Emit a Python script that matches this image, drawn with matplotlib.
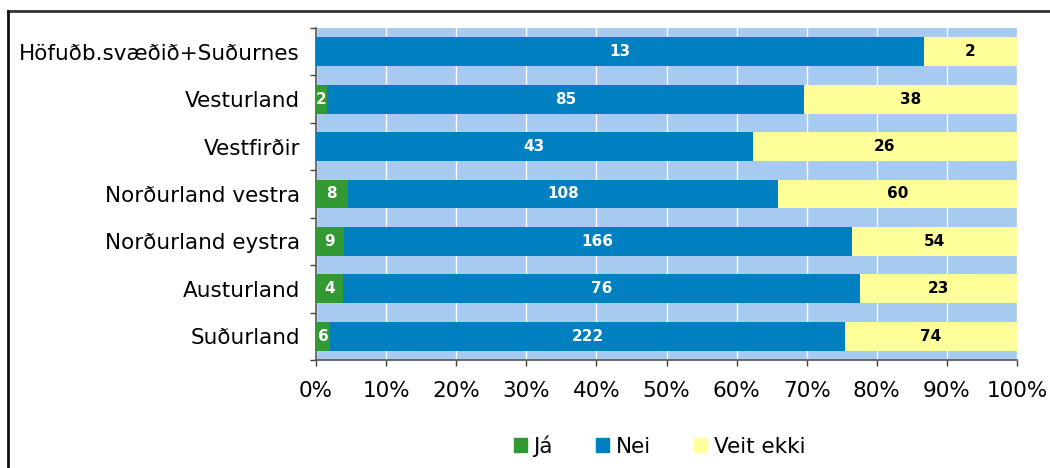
import matplotlib
matplotlib.use("Agg")
import matplotlib.pyplot as plt
import numpy as np
from matplotlib.patches import Rectangle
from matplotlib.lines import Line2D

categories = ["Höfuðb.svæðið+Suðurnes", "Vesturland", "Vestfirðir",
              "Norðurland vestra", "Norðurland eystra", "Austurland", "Suðurland"]
ja = [0, 2, 0, 8, 9, 4, 6]
nei = [13, 85, 43, 108, 166, 76, 222]
veit = [2, 38, 26, 60, 54, 23, 74]
series_names = ["Já", "Nei", "Veit ekki"]
x_ticklabels = ["0%", "10%", "20%", "30%", "40%", "50%", "60%", "70%", "80%", "90%", "100%"]

colors = ["#339933", "#0080C0", "#FFFF99"]
text_colors = ["white", "white", "black"]

plt.rcParams['font.family'] = ['DejaVu Sans']

fig = plt.figure(figsize=(10.5, 4.68), dpi=100)
ax = fig.add_axes([316/1050, 1-360/468, (1017-316)/1050, (360-28)/468])
ax.set_facecolor("#A6CAF0")

data = np.array([ja, nei, veit], dtype=float)
totals = data.sum(axis=0)
pct = data / totals * 100
n = len(categories)
ypos = np.arange(n)[::-1]

left = np.zeros(n)
for i in range(3):
    ax.barh(ypos, pct[i], left=left, height=0.61, color=colors[i],
            label=series_names[i], zorder=3)
    for j in range(n):
        v = data[i, j]
        if v > 0:
            ax.text(left[j] + pct[i, j] / 2, ypos[j], f"{int(v)}",
                    ha="center", va="center", color=text_colors[i],
                    fontsize=11, fontweight="bold", zorder=4)
    left += pct[i]

ax.set_xlim(0, 100)
ax.set_ylim(-0.5, n - 0.5)
ax.set_xticks(np.arange(0, 101, 10))
ax.set_xticklabels(x_ticklabels, fontsize=15.5)
ax.set_yticks(ypos)
ax.set_yticklabels(categories, fontsize=15.5)
ax.set_yticks(np.arange(-0.5, n, 1.0), minor=True)
ax.tick_params(axis="y", which="major", length=0, pad=11.5)
ax.tick_params(axis="y", which="minor", length=4.5, width=1, color="#404040")
ax.tick_params(axis="x", which="major", length=4.5, width=1, color="#404040", pad=10.5)
ax.grid(axis="x", color="white", linewidth=1.0, zorder=1)
ax.set_axisbelow(True)
for s in ["top", "right"]:
    ax.spines[s].set_visible(False)
for s in ["left", "bottom"]:
    ax.spines[s].set_color("#555555")
    ax.spines[s].set_linewidth(1.2)

handles = [Rectangle((0, 0), 1, 1, color=c) for c in colors]
leg = ax.legend(handles, series_names, loc="center", bbox_to_anchor=(0.49, -0.259),
                ncol=3, frameon=False, fontsize=15.5, handlelength=0.62,
                handleheight=0.62, handletextpad=0.3, columnspacing=2.0)

# outer border (top and left visible)
fig.add_artist(Line2D([7.5/1050, 1.0], [1-10.5/468, 1-10.5/468], transform=fig.transFigure,
                      color="#333333", linewidth=2))
fig.add_artist(Line2D([7.5/1050, 7.5/1050], [0, 1-10.5/468], transform=fig.transFigure,
                      color="#111111", linewidth=2))

fig.savefig("out.png", dpi=100)
